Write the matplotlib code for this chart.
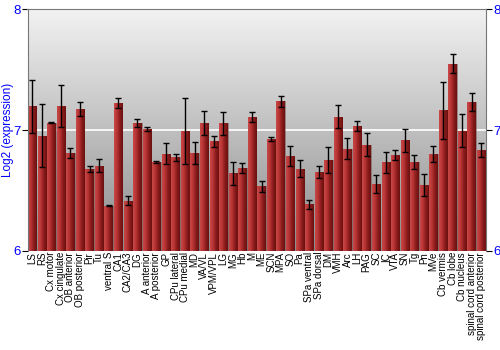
import numpy as np
import matplotlib
matplotlib.use("Agg")
import matplotlib.pyplot as plt
from matplotlib.colors import LinearSegmentedColormap

plt.rcParams["font.family"] = ["Liberation Sans", "DejaVu Sans"]

regions = ["LS", "RS", "Cx motor", "Cx cingulate", "OB anterior", "OB posterior", "Pir", "Tu",
           "ventral S", "CA1", "CA2/CA3", "DG", "A anterior", "A posterior", "GP", "CPu lateral",
           "CPu medial", "MD", "VA/VL", "VPM/VPL", "LG", "MG", "Hb", "M", "ME", "SCN", "MPA", "SO",
           "Pa", "SPa ventral", "SPa dorsal", "DM", "VMH", "Arc", "LH", "PAG", "SC", "IC", "VTA",
           "SN", "Tg", "Pn", "MVe", "Cb vermis", "Cb lobe", "Cb nucleus", "spinal cord anterior",
           "spinal cord posterior"]
values = [7.199, 6.950, 7.061, 7.199, 6.807, 7.171, 6.674, 6.702,
          6.373, 7.221, 6.412, 7.055, 7.008, 6.735, 6.804, 6.773,
          6.992, 6.807, 7.058, 6.909, 7.055, 6.641, 6.682, 7.108, 6.533, 6.928, 7.240, 6.787,
          6.680, 6.384, 6.652, 6.751, 7.108, 6.845, 7.033, 6.876, 6.552, 6.735, 6.793,
          6.914, 6.735, 6.544, 6.801, 7.163, 7.550, 6.992, 7.235,
          6.837]
err_hi = [7.414, 7.213, 7.066, 7.376, 6.854, 7.232, 6.704, 6.760,
          6.376, 7.268, 6.453, 7.088, 7.025, 6.746, 6.890, 6.804,
          7.268, 6.901, 7.155, 6.953, 7.152, 6.738, 6.727, 7.152, 6.577, 6.945, 7.285, 6.867,
          6.749, 6.420, 6.704, 6.862, 7.207, 6.931, 7.077, 6.972, 6.630, 6.820, 6.831,
          7.011, 6.793, 6.635, 6.865, 7.401, 7.627, 7.130, 7.309,
          6.895]
err_lo = [6.978, 6.696, 7.056, 7.028, 6.765, 7.116, 6.649, 6.649,
          6.370, 7.180, 6.376, 7.028, 6.989, 6.727, 6.718, 6.740,
          6.718, 6.715, 6.961, 6.862, 6.961, 6.544, 6.641, 7.064, 6.489, 6.909, 7.193, 6.704,
          6.610, 6.348, 6.599, 6.646, 7.014, 6.762, 6.989, 6.782, 6.475, 6.646, 6.751,
          6.818, 6.677, 6.456, 6.738, 6.923, 7.472, 6.859, 7.160,
          6.779]
yticks = [6, 7, 8]

fig = plt.figure(figsize=(5, 3.5), dpi=100)
ax = fig.add_axes([0.055, 0.284, 0.917, 0.689])
x = np.arange(len(regions))
ax.set_xlim(-0.5, len(regions) - 0.5)
ax.set_ylim(6, 8)

# background gradient
bg = LinearSegmentedColormap.from_list("bg", ["#8c8c8c", "#f2f2f2"])
grad = np.linspace(0, 1, 256).reshape(-1, 1)
ax.imshow(grad, cmap=bg, aspect="auto", extent=[0, 1, 0, 1], transform=ax.transAxes,
          origin="lower", zorder=0)
ax.axhline(7, color="white", lw=1.2, zorder=1)

# bars with horizontal gradient
barcm = LinearSegmentedColormap.from_list("bar", ["#c84848", "#b83434", "#8a1c1c", "#6a1010"])
hgrad = np.linspace(0, 1, 64).reshape(1, -1)
w = 0.88
bars = ax.bar(x, np.array(values) - 6, bottom=6, width=w, color="none",
              edgecolor="#7a5050", linewidth=0.4, zorder=2)
for b in bars:
    x0, y0 = b.get_x(), b.get_y()
    ax.imshow(hgrad, cmap=barcm, aspect="auto",
              extent=[x0, x0 + b.get_width(), y0, y0 + b.get_height()], zorder=2)

vals = np.array(values)
yerr = [vals - np.array(err_lo), np.array(err_hi) - vals]
ax.errorbar(x, vals, yerr=yerr, fmt="none", ecolor="black", elinewidth=1.0,
            capsize=2, capthick=1.0, zorder=3)

ax.set_xlim(-0.5, len(regions) - 0.5)
ax.set_ylim(6, 8)
ax.set_xticks(x)
ax.set_xticklabels(regions, rotation=90, fontsize=7, color="black")
ax.tick_params(axis="x", length=0, pad=1)
ax.set_yticks(yticks)
ax.set_yticklabels([str(t) for t in yticks], color="blue", fontsize=9.5)
ax.tick_params(axis="y", which="both", direction="out", length=4, width=0.8,
               left=True, right=True, labelleft=True, labelright=True, pad=1)
ax.set_ylabel("Log2 (expression)", color="blue", fontsize=8.5, va="center")
ax.yaxis.set_label_coords(-0.042, 0.5)
for s in ax.spines.values():
    s.set_color("#777777")
    s.set_linewidth(0.8)
ax.spines["bottom"].set_visible(False)

fig.savefig("out.png", dpi=100)
